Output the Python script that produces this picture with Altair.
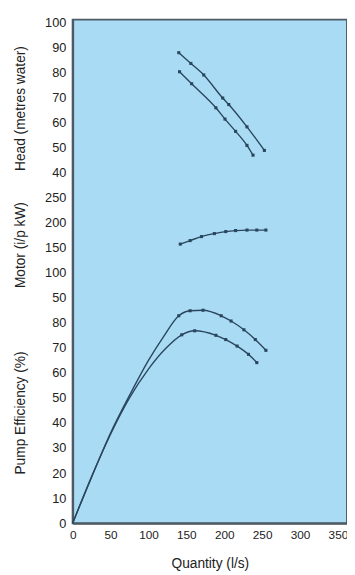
import altair as alt
import pandas as pd

# ---- data ----
x_ticks = [0, 50, 100, 150, 200, 250, 300, 350]
# stacked y axis: efficiency 0-80, motor 50-250, head 40-100
y_tick_labels = ["0", "10", "20", "30", "40", "50", "60", "70", "80",
                 "50", "100", "150", "200", "250",
                 "40", "50", "60", "70", "80", "90", "100"]

# Head (metres water)
q_head_a = [140, 156, 173, 198, 206, 230, 253]
head_a = [87.8, 83.5, 78.9, 69.7, 67.1, 58.2, 48.8]
q_head_b = [141, 157, 189, 201, 215, 230, 238]
head_b = [80.2, 75.4, 65.8, 61.3, 56.4, 50.8, 46.9]

# Motor (i/p kW)
q_motor = [142, 155, 170, 187, 202, 215, 230, 243, 255]
motor = [157, 164, 172, 178, 182, 184, 185, 185, 185]

# Pump efficiency (%)
q_eff_a = [0, 25, 50, 75, 100, 120, 140, 155, 172, 196, 209, 226, 241, 255]
eff_a = [0, 18.5, 36, 51, 65, 74.5, 82.8, 84.8, 85.0, 82.8, 80.7, 77.2, 73.3, 69.0]
marker_from_a = 6
q_eff_b = [0, 25, 50, 75, 100, 122, 144, 161, 189, 202, 217, 232, 243]
eff_b = [0, 18.5, 35.5, 50, 61.5, 69.5, 75.2, 76.8, 75.0, 73.3, 70.7, 67.4, 64.1]
marker_from_b = 6

titles = ["Head (metres water)", "Motor (i/p kW)", "Pump Efficiency (%)"]
title_pos = [16.55, 11.1, 4.4]


# map each quantity onto the shared stacked axis
def head_u(v):
    return 14 + (v - 40) / 10.0


def motor_u(v):
    return 8 + v / 50.0


def eff_u(v):
    return v / 10.0


rows = []
for q, v in zip(q_head_a, head_a):
    rows.append(dict(series="head_a", q=q, u=head_u(v), marker=True))
for q, v in zip(q_head_b, head_b):
    rows.append(dict(series="head_b", q=q, u=head_u(v), marker=True))
for q, v in zip(q_motor, motor):
    rows.append(dict(series="motor", q=q, u=motor_u(v), marker=True))
for i, (q, v) in enumerate(zip(q_eff_a, eff_a)):
    rows.append(dict(series="eff_a", q=q, u=eff_u(v), marker=i >= marker_from_a))
for i, (q, v) in enumerate(zip(q_eff_b, eff_b)):
    rows.append(dict(series="eff_b", q=q, u=eff_u(v), marker=i >= marker_from_b))
df = pd.DataFrame(rows)

tdf = pd.DataFrame({"t": titles, "u": title_pos})

FONT = "Liberation Sans"
LINE = "#2a465e"
BORDER = "#4d5b66"

label_expr = "[" + ",".join("'" + s + "'" for s in y_tick_labels) + "][datum.value]"

x_axis = alt.Axis(values=x_ticks, title="Quantity (l/s)", grid=False,
                  ticks=False, tickSize=0, labelPadding=7,
                  labelOverlap=False, labelFlush=False,
                  labelFontSize=12, labelFont=FONT, labelColor="#222",
                  titleFont=FONT, titleFontSize=14, titleFontWeight="normal",
                  titleColor="#222", titlePadding=16,
                  domainColor=BORDER, domainWidth=2)
y_axis = alt.Axis(values=list(range(len(y_tick_labels))), labelExpr=label_expr,
                  title=None, grid=False, ticks=False, tickSize=0,
                  labelOverlap=False, labelFlush=False,
                  labelPadding=7, labelFontSize=13, labelFont=FONT,
                  labelColor="#222", domainColor=BORDER, domainWidth=2)
x_scale = alt.Scale(domain=[0, 362], nice=False, zero=False)
y_scale = alt.Scale(domain=[0, 20.1], nice=False, zero=False)


def xs():
    return alt.X("q:Q", scale=x_scale, axis=x_axis)


def ys():
    return alt.Y("u:Q", scale=y_scale, axis=y_axis)


lines = alt.Chart(df).mark_line(interpolate="monotone", color=LINE, strokeWidth=1.4).encode(
    x=xs(), y=ys(), detail="series:N")

points = alt.Chart(df).transform_filter("datum.marker").mark_square(
    size=10, color=LINE, opacity=1).encode(x=xs(), y=ys())

ytitles = alt.Chart(tdf).mark_text(angle=270, font=FONT, fontSize=14, color="#222",
                                   align="center", baseline="middle").encode(
    x=alt.value(-53), y=ys(), text="t:N")

chart = alt.layer(lines, points, ytitles).properties(
    width=280, height=514,
    padding={"left": 66, "top": 6, "right": 0, "bottom": 47},
    autosize=alt.AutoSizeParams(type="none"),
    background="white",
).configure_view(fill="#a9dcf4", stroke=BORDER, strokeWidth=2)

chart.save("out.html", embed_options={"renderer": "svg", "actions": False})
